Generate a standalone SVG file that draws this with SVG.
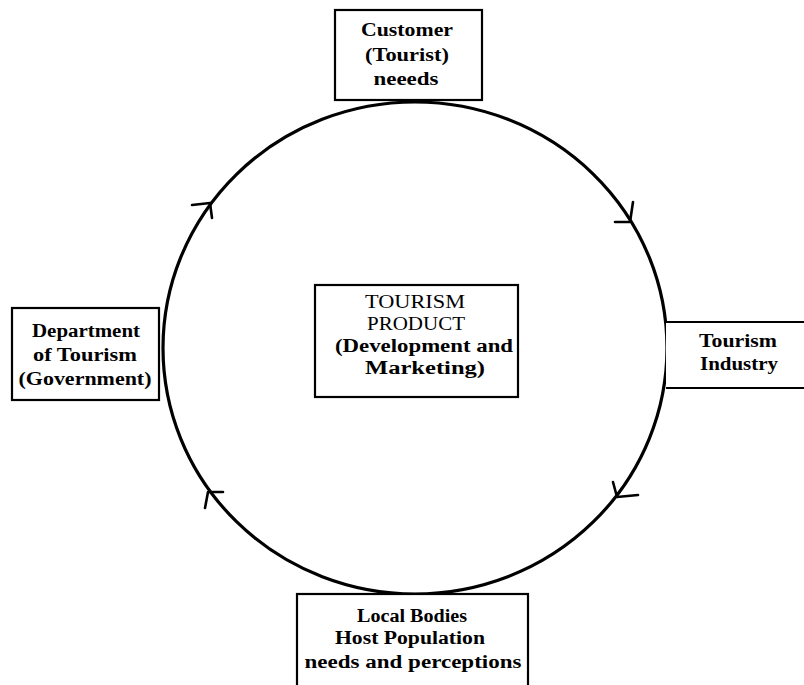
<svg xmlns="http://www.w3.org/2000/svg" width="804" height="685" viewBox="0 0 804 685">
<style>
.box{fill:#fff;stroke:#000;stroke-width:2.2}
.t{font-family:"Liberation Serif","Times New Roman",serif;font-size:18px;font-weight:bold;fill:#000;text-anchor:middle}
.r{font-weight:normal}
.ring{fill:none;stroke:#000;stroke-width:3.2}
.arr{fill:none;stroke:#000;stroke-width:2.6;stroke-linecap:round;stroke-linejoin:round}
</style>
<rect width="804" height="685" fill="#fff"/>
<g id="connectors">
<ellipse class="ring" cx="415" cy="348" rx="252" ry="246"/>
<polyline class="arr" points="192,205 210,203 212,218"/>
<polyline class="arr" points="615,222 630,222 633,202"/>
<polyline class="arr" points="638,495 617,497 613,482"/>
<polyline class="arr" points="223,492 208,492 205,508"/>
</g>
<g id="customer">
<rect class="box" x="335" y="10" width="147" height="90"/>
<text class="t" x="407" y="36" textLength="92" lengthAdjust="spacingAndGlyphs">Customer</text>
<text class="t" x="407" y="61" textLength="84" lengthAdjust="spacingAndGlyphs">(Tourist)</text>
<text class="t" x="406" y="85" textLength="65" lengthAdjust="spacingAndGlyphs">neeeds</text>
</g>
<g id="department">
<rect class="box" x="12" y="308" width="147" height="92"/>
<text class="t" x="86" y="337" textLength="108" lengthAdjust="spacingAndGlyphs">Department</text>
<text class="t" x="85" y="361" textLength="104" lengthAdjust="spacingAndGlyphs">of Tourism</text>
<text class="t" x="85" y="385" textLength="133" lengthAdjust="spacingAndGlyphs">(Government)</text>
</g>
<g id="industry">
<path class="box" d="M666,322 H810 V388 H666" fill="none"/>
<text class="t" x="738" y="347" textLength="78" lengthAdjust="spacingAndGlyphs">Tourism</text>
<text class="t" x="739" y="370" textLength="78" lengthAdjust="spacingAndGlyphs">Industry</text>
</g>
<g id="local">
<rect class="box" x="297" y="594" width="231" height="100"/>
<text class="t" x="412" y="622" textLength="110" lengthAdjust="spacingAndGlyphs">Local Bodies</text>
<text class="t" x="410" y="644" textLength="150" lengthAdjust="spacingAndGlyphs">Host Population</text>
<text class="t" x="413" y="668" textLength="217" lengthAdjust="spacingAndGlyphs">needs and perceptions</text>
</g>
<g id="product">
<rect class="box" x="315" y="285" width="203" height="112"/>
<text class="t r" x="415" y="308" textLength="100" lengthAdjust="spacingAndGlyphs">TOURISM</text>
<text class="t r" x="416" y="330" textLength="98" lengthAdjust="spacingAndGlyphs">PRODUCT</text>
<text class="t" x="424" y="352" textLength="178" lengthAdjust="spacingAndGlyphs">(Development and</text>
<text class="t" x="425" y="374" textLength="120" lengthAdjust="spacingAndGlyphs">Marketing)</text>
</g>
</svg>
